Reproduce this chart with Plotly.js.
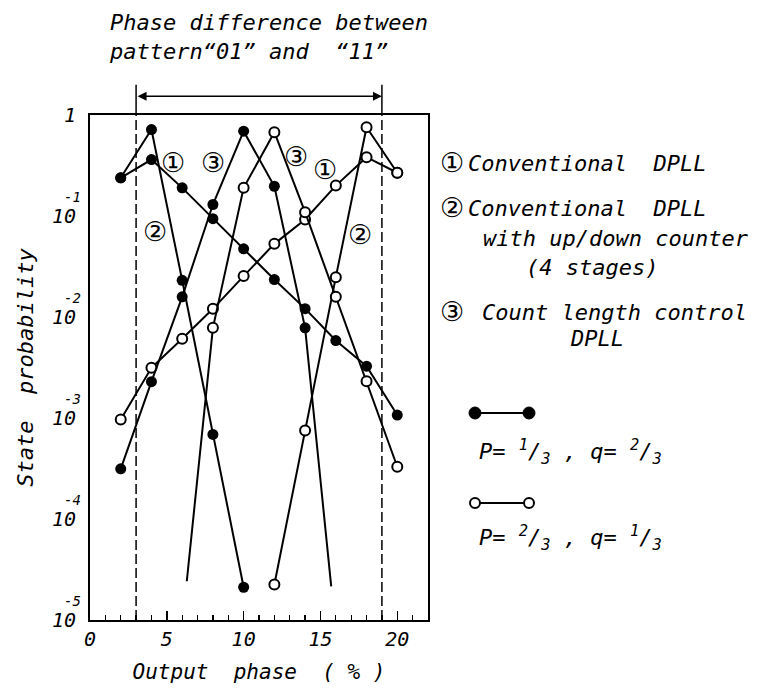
<!DOCTYPE html>
<html>
<head>
<meta charset="utf-8">
<script src="https://cdn.plot.ly/plotly-3.0.1.min.js"></script>
<style>
  html, body { margin: 0; padding: 0; background: #ffffff; }
  #chart { width: 762px; height: 694px; }
</style>
</head>
<body>
<div id="chart"></div>
<script>
// Output phase positions (%) of the measured states
const phase = [2, 4, 6, 8, 10, 12, 14, 16, 18, 20];

// (1) Conventional DPLL
const convP13 = [0.239, 0.362, 0.19, 0.094, 0.0473, 0.0235, 0.0121, 0.00585, 0.00326, 0.00107];
const convP23 = [0.000966, 0.00314, 0.00608, 0.01205, 0.0254, 0.053, 0.0923, 0.2, 0.382, 0.268];

// (2) Conventional DPLL with up/down counter (4 stages)
const udPhase13 = [2, 4, 6, 8, 10];
const udP13 = [0.239, 0.718, 0.0231, 0.000687, 0.0000211];
const udPhase23 = [12, 14, 16, 18, 20];
const udP23 = [0.0000225, 0.000752, 0.0248, 0.757, 0.268];

// (3) Count length control DPLL (one end of each curve runs off without a state mark)
const clPhase13 = [2, 4, 6, 8, 10, 12, 14, 15.7];
const clP13 = [0.000314, 0.00229, 0.01585, 0.13, 0.691, 0.197, 0.00782, 0.0000215];
const clPhase23 = [6.3, 8, 10, 12, 14, 16, 18, 20];
const clP23 = [0.0000242, 0.00782, 0.19, 0.676, 0.109, 0.01585, 0.00231, 0.000329];

// Axis ticks
const xTickVals = [0, 5, 10, 15, 20];
const xTickText = ['0', '5', '10', '15', '20'];
const yTickVals = [1, 0.1, 0.01, 0.001, 0.0001, 0.00001];
const yTickText = ['1', '10', '10', '10', '10', '10'];
const yTickExp = ['', '-1', '-2', '-3', '-4', '-5'];

// Window of the phase difference between patterns "01" and "11"
const windowStart = 3;
const windowEnd = 19;

const W = 762, H = 694;
const FONT = 'DejaVu Sans Mono, DejaVu Sans, Noto Sans CJK JP, monospace';
const CIRC = 'DejaVu Sans, Noto Sans CJK JP, sans-serif';
const px = v => v / W;
const py = v => (H - v) / H;

const filled = { color: '#000', size: 11, opacity: 1 };
const open = { color: '#fff', size: 10, opacity: 1, line: { color: '#000', width: 2 } };
const lineStyle = { color: '#000', width: 2 };

// hide the state mark at the free end of a curve
function hideAt(arr, idx) {
  return arr.map((_, i) => (i === idx ? 0 : 1));
}

const traces = [
  { name: 'conv p=1/3', x: phase, y: convP13, mode: 'lines+markers', line: lineStyle, marker: filled },
  { name: 'conv p=2/3', x: phase, y: convP23, mode: 'lines+markers', line: lineStyle, marker: open },
  { name: 'u/d p=1/3', x: udPhase13, y: udP13, mode: 'lines+markers', line: lineStyle, marker: filled },
  { name: 'u/d p=2/3', x: udPhase23, y: udP23, mode: 'lines+markers', line: lineStyle, marker: open },
  { name: 'clc p=1/3', x: clPhase13, y: clP13, mode: 'lines+markers', line: lineStyle,
    marker: Object.assign({}, filled, { opacity: hideAt(clPhase13, clPhase13.length - 1) }) },
  { name: 'clc p=2/3', x: clPhase23, y: clP23, mode: 'lines+markers', line: lineStyle,
    marker: Object.assign({}, open, { opacity: hideAt(clPhase23, 0) }) }
];

const annotations = [];

// stacked exponents over the "10" tick labels
yTickVals.forEach((v, i) => {
  if (!yTickExp[i]) return;
  annotations.push({
    xref: 'paper', yref: 'y', x: px(83), y: Math.log10(v), xanchor: 'right', yanchor: 'middle',
    yshift: 19, text: yTickExp[i], showarrow: false,
    font: { family: FONT, size: 14, style: 'italic', color: '#000' }
  });
});

// curve numbers inside the plot
const curveLabels = [
  ['\u2460', 5.4, -0.47], ['\u2462', 8.0, -0.47], ['\u2461', 4.2, -1.15],
  ['\u2462', 13.4, -0.41], ['\u2460', 15.3, -0.54], ['\u2461', 17.6, -1.18]
];
curveLabels.forEach(([t, x, y]) => annotations.push({
  xref: 'x', yref: 'y', x: x, y: y, text: t, showarrow: false,
  font: { family: CIRC, size: 27, color: '#000' }
}));

// double arrow spanning the phase window
annotations.push({
  xref: 'x', yref: 'y domain', x: windowEnd, y: 1.037, axref: 'x', ax: windowStart, ay: 0,
  text: '', showarrow: true, arrowhead: 2, arrowside: 'end+start', arrowsize: 1.2,
  arrowwidth: 1.5, arrowcolor: '#000', standoff: 0, startstandoff: 0
});

// explanation of the curve numbers
const note = (t, x, y, size) => ({
  xref: 'paper', yref: 'paper', x: px(x), y: py(y), xanchor: 'left', yanchor: 'middle',
  text: t, showarrow: false, font: { family: FONT, size: size || 22, style: 'italic', color: '#000' }
});
const circ = (t, x, y) => ({
  xref: 'paper', yref: 'paper', x: px(x), y: py(y), xanchor: 'center', yanchor: 'middle',
  text: t, showarrow: false, font: { family: CIRC, size: 27, color: '#000' }
});
annotations.push(
  circ('\u2460', 452, 162), note('Conventional  DPLL', 466, 163),
  circ('\u2461', 452, 207), note('Conventional  DPLL', 466, 208),
  note('with up/down counter', 481, 238),
  note('(4 stages)', 524, 267),
  circ('\u2462', 452, 311), note('Count length control', 480, 312),
  note('DPLL', 568, 338),
  note('P= <sup>1</sup>/<sub>3</sub> , q= <sup>2</sup>/<sub>3</sub>', 477, 452, 22),
  note('P= <sup>2</sup>/<sub>3</sub> , q= <sup>1</sup>/<sub>3</sub>', 477, 538, 22)
);

const shapes = [];
[windowStart, windowEnd].forEach(x => {
  shapes.push({ type: 'line', xref: 'x', yref: 'y domain', x0: x, x1: x, y0: 0, y1: 1,
                line: { color: '#000', width: 1.5, dash: '10px,4px' } });
  shapes.push({ type: 'line', xref: 'x', yref: 'y domain', x0: x, x1: x, y0: 1, y1: 1.06,
                line: { color: '#000', width: 1.5 } });
});

// key samples for the two probability settings
function keySample(y, isFilled) {
  shapes.push({ type: 'line', xref: 'paper', yref: 'paper', x0: px(475), x1: px(529), y0: py(y), y1: py(y),
                line: { color: '#000', width: 2 } });
  [475, 529].forEach(x => {
    const r = isFilled ? 6 : 5;
    shapes.push({ type: 'circle', xref: 'paper', yref: 'paper', xsizemode: 'pixel', ysizemode: 'pixel',
                  xanchor: px(x), yanchor: py(y), x0: -r, x1: r, y0: -r, y1: r,
                  fillcolor: isFilled ? '#000' : '#fff', line: { color: '#000', width: isFilled ? 1 : 2 } });
  });
}
keySample(413, true);
keySample(503, false);

const layout = {
  width: W, height: H,
  margin: { l: 0, r: 0, t: 0, b: 0 },
  paper_bgcolor: '#fff', plot_bgcolor: '#fff',
  showlegend: false,
  font: { family: FONT, color: '#000', style: 'italic' },
  title: {
    text: 'Phase difference between<br>pattern\u201c01\u201d and  \u201c11\u201d',
    x: px(110), xref: 'paper', xanchor: 'left', y: py(30), yref: 'paper', yanchor: 'top',
    font: { family: FONT, size: 22, style: 'italic', color: '#000' }
  },
  xaxis: {
    domain: [px(90), px(428)], range: [0, 22],
    showline: true, mirror: true, linewidth: 2, linecolor: '#000',
    showgrid: false, zeroline: false,
    ticks: 'inside', ticklen: 9, tickwidth: 1.5, tickcolor: '#000',
    tickvals: xTickVals, ticktext: xTickText, ticklabelstandoff: 0,
    tickfont: { family: FONT, size: 20, style: 'italic', color: '#000' },
    minor: { dtick: 1, ticks: 'inside', ticklen: 5, tickwidth: 1.2, tickcolor: '#000', showgrid: false },
    automargin: false,
    title: { text: 'Output  phase  ( % )', standoff: 14,
             font: { family: FONT, size: 21, style: 'italic', color: '#000' } }
  },
  yaxis: {
    domain: [py(620), py(115)], type: 'log', range: [-5, 0],
    showline: true, mirror: true, linewidth: 2, linecolor: '#000',
    showgrid: false, zeroline: false, ticks: '',
    tickvals: yTickVals, ticktext: yTickText, ticklabelstandoff: 8,
    tickfont: { family: FONT, size: 20, style: 'italic', color: '#000' },
    automargin: false,
    title: { text: 'State  probability\u00a0\u00a0', standoff: 12,
             font: { family: FONT, size: 22, style: 'italic', color: '#000' } }
  },
  annotations: annotations,
  shapes: shapes
};

Plotly.newPlot('chart', traces, layout, { displayModeBar: false, staticPlot: true });
</script>
</body>
</html>
